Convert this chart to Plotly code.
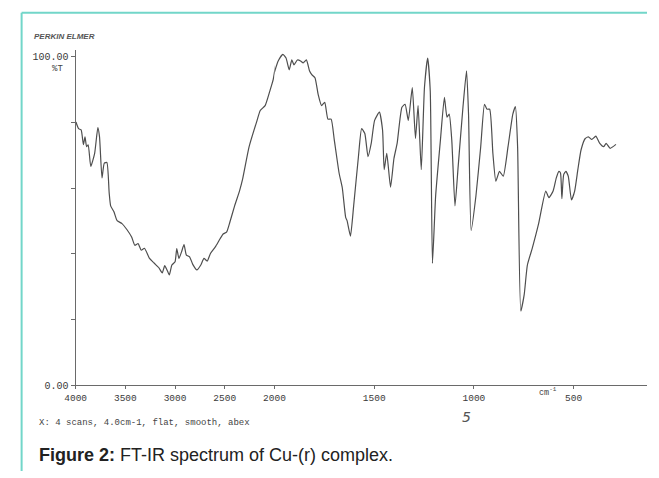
import plotly.graph_objects as go

# FT-IR spectrum of Cu-(r) complex
wavenumber = [3997, 3971, 3945, 3922, 3906, 3890, 3874, 3848, 3809, 3777, 3760, 3735, 3712, 3686,
              3663, 3648, 3615, 3583, 3534, 3485, 3437, 3405, 3372, 3340, 3308, 3259, 3211, 3162,
              3129, 3104, 3081, 3058, 3032, 3000, 2983, 2961, 2935, 2910, 2886, 2854, 2822, 2780,
              2741, 2709, 2677, 2644, 2595, 2547, 2514, 2482, 2449, 2401, 2352, 2320, 2255, 2175,
              2143, 2094, 2046, 2013,
              1982, 1958, 1942, 1926, 1913, 1902, 1885, 1869, 1856, 1840, 1824, 1813, 1797, 1781,
              1764, 1748, 1732, 1716, 1700, 1676, 1660, 1643, 1636, 1619, 1603, 1579, 1563, 1547,
              1531, 1515, 1498, 1474, 1458, 1450, 1437, 1418, 1401, 1385, 1361, 1345, 1329, 1309,
              1293, 1280, 1264, 1248, 1232, 1219, 1208, 1192, 1168, 1148, 1135, 1124, 1111, 1095,
              1079, 1055, 1037, 1027, 1014, 990, 966, 947, 934, 921, 905, 890, 872, 853, 829, 805,
              792, 781, 765, 748, 732, 708, 676, 640, 624, 603, 587, 574, 566, 559, 550, 539, 527,
              511, 495, 479, 463, 442, 426, 409, 389, 369, 350, 337, 317, 288]
transmittance = [80.1, 78.1, 77.7, 73.2, 75.6, 72.6, 73.2, 66.6, 70.6, 78.4, 75.6, 63.1, 67.6, 67.8,
                 58.6, 54.6, 52.8, 50.1, 49.2, 47.4, 45.1, 42.6, 43.1, 41.1, 41.7, 38.7, 37.2, 35.7,
                 34.2, 36.4, 35.1, 33.6, 36.6, 37.6, 41.6, 38.6, 40.6, 42.8, 39.6, 39.1, 36.8, 35.1,
                 36.6, 38.6, 37.8, 40.1, 42.1, 44.6, 46.1, 46.6, 49.6, 54.6, 59.1, 62.8, 72.6, 80.6,
                 83.6, 85.1, 89.6, 93.0,
                 98.6, 100.7, 99.6, 96.0, 99.0, 97.5, 99.0, 98.7, 98.1, 99.0, 95.6, 94.5, 93.6, 88.5,
                 85.1, 86.1, 81.0, 81.0, 74.6, 64.6, 60.1, 51.1, 50.1, 45.4, 54.6, 69.6, 78.1, 76.6,
                 69.6, 73.6, 80.6, 83.1, 77.6, 65.6, 70.6, 60.3, 69.0, 73.6, 84.6, 85.5, 80.6, 90.6,
                 75.1, 85.1, 65.6, 90.6, 99.6, 89.6, 37.1, 57.6, 74.6, 87.6, 81.6, 82.5, 74.6, 54.6,
                 66.6, 84.6, 95.7, 82.5, 47.1, 57.6, 72.6, 85.5, 84.0, 84.0, 70.6, 62.1, 65.1, 63.6,
                 72.6, 82.5, 84.8, 72.6, 22.6, 27.6, 36.6, 41.6, 49.1, 59.1, 57.1, 59.1, 63.1, 65.1,
                 64.6, 56.8, 64.1, 65.1, 63.6, 56.4, 59.1, 65.6, 71.6, 75.1, 75.6, 74.8, 75.8, 73.6,
                 72.6, 73.6, 72.1, 73.3]

x_ticks_high = [4000, 3500, 3000, 2500, 2000]
x_ticks_low = [1500, 1000, 500]
y_label_ticks = [0, 100]
y_label_text = ["0.00", "100.00"]
y_minor_step = 20

W, H = 659, 478
# layout geometry (pixels)
x_left_px, x_break_px, x_right_px = 67, 273, 659
y_zero_px, px_per_pct = 391, 3.335
y_top = 102

line_color = "#4e4e4e"
axis_color = "#6a6a6a"
mono = "Liberation Mono"

fig = go.Figure()
for xa in ["x", "x2"]:
    fig.add_trace(go.Scatter(x=wavenumber, y=transmittance, mode="lines", xaxis=xa, yaxis="y",
                             line=dict(color=line_color, width=1.2, shape="spline", smoothing=0.5),
                             showlegend=False, hoverinfo="x+y"))

tickfont = dict(family=mono, size=9.5, color="#3a3a3a")
common_x = dict(showline=True, linecolor=axis_color, linewidth=1.3, ticks="outside",
                ticklen=3, tickcolor=axis_color, showgrid=False, zeroline=False,
                tickfont=tickfont, anchor="y")
fig.update_layout(
    width=W, height=H, margin=dict(l=0, r=0, t=0, b=0),
    paper_bgcolor="white", plot_bgcolor="white",
    xaxis=dict(domain=[x_left_px / W, x_break_px / W], range=[4000, 2000],
               tickvals=x_ticks_high, ticktext=[str(v) for v in x_ticks_high], **common_x),
    xaxis2=dict(domain=[x_break_px / W, x_right_px / W],
                range=[2000, 2000 - (x_right_px - x_break_px) * 1500 / 310],
                tickvals=x_ticks_low, ticktext=[str(v) for v in x_ticks_low], **common_x),
    yaxis=dict(domain=[(H - y_zero_px) / H, (H - y_zero_px + y_top * px_per_pct) / H],
               range=[0, y_top], anchor="x", tickvals=y_label_ticks, ticktext=y_label_text,
               showline=True, linecolor=axis_color, linewidth=1.3, ticks="outside",
               ticklen=4, tickcolor=axis_color, showgrid=False, zeroline=False,
               tickfont=dict(family=mono, size=10, color="#3a3a3a"),
               minor=dict(tick0=0, dtick=y_minor_step, ticks="outside", ticklen=4,
                          tickcolor=axis_color, showgrid=False)),
)

# teal frame (left + top)
teal = "#72d6c9"
fig.add_shape(type="line", xref="paper", yref="paper", x0=11 / W, x1=11 / W, y0=0, y1=1 - 13 / H,
              line=dict(color=teal, width=2))
fig.add_shape(type="line", xref="paper", yref="paper", x0=11 / W, x1=1, y0=1 - 13 / H, y1=1 - 13 / H,
              line=dict(color=teal, width=2))

def ann(text, x, y, size, family=mono, color="#444", xanchor="left"):
    fig.add_annotation(text=text, xref="paper", yref="paper", x=x / W, y=1 - y / H,
                       xanchor=xanchor, yanchor="middle", showarrow=False,
                       font=dict(family=family, size=size, color=color))

ann("<b><i>PERKIN ELMER</i></b>", 22, 37, 8, family="Liberation Sans Narrow, Liberation Sans", color="#555")
ann("%T", 40, 70, 9)
ann("cm<sup>-1</sup>", 545, 398, 8.5)
ann("X: 4 scans, 4.0cm-1, flat, smooth, abex", 27, 429, 9)
ann("<i>5</i>", 465, 423, 14, family="DejaVu Sans", color="#555")
ann("<b>Figure 2:</b> FT-IR spectrum of Cu-(r) complex.", 27, 462, 18, family="Liberation Sans",
    color="#222")

fig.write_html("out.html")
